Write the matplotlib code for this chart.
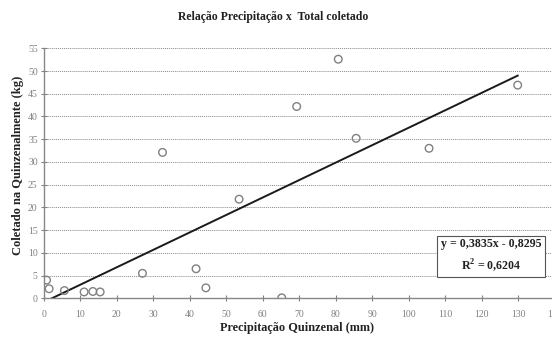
import numpy as np
import matplotlib.pyplot as plt

# precipitacao quinzenal (mm) x coletado (kg)
precip = [0.7, 1.4, 5.6, 11.0, 13.4, 15.4, 27.0, 32.5, 41.7, 44.4,
          53.5, 65.2, 69.3, 80.7, 85.6, 105.6, 129.9]
coletado = [4.0, 2.1, 1.7, 1.4, 1.5, 1.4, 5.5, 32.1, 6.5, 2.3,
            21.8, 0.1, 42.2, 52.6, 35.2, 33.0, 46.9]

slope = 0.3835
intercept = -0.8295
r2 = 0.6204

x_ticks = list(range(0, 141, 10))
y_ticks = list(range(0, 56, 5))

plt.rcParams['font.family'] = ['Liberation Serif', 'DejaVu Serif']
plt.rcParams['mathtext.fontset'] = 'custom'
plt.rcParams['mathtext.rm'] = 'Liberation Serif'
plt.rcParams['mathtext.bf'] = 'Liberation Serif:bold'

fig = plt.figure(figsize=(5.52, 3.37), dpi=100)
ax = fig.add_axes([44 / 552, 38.7 / 337, 510.5 / 552, 250 / 337])

ax.scatter(precip, coletado, s=30, facecolors='none', edgecolors='#808080',
           linewidths=1.0, zorder=3)

xs = np.array([min(precip), max(precip)])
ax.plot(xs, slope * xs + intercept, color='#1a1a1a', lw=1.4, zorder=2)

ax.set_xlim(0, 140)
ax.set_ylim(0, 55)
ax.set_xticks(x_ticks)
ax.set_yticks(y_ticks)
ax.tick_params(labelsize=7, colors='#808080', direction='inout', length=5,
               width=0.8, pad=2)
ax.tick_params(axis='x', pad=6)
ax.yaxis.grid(True, linestyle=(0, (1, 1)), color='#888888', lw=0.7)
ax.set_axisbelow(True)
for s in ['top', 'right']:
    ax.spines[s].set_visible(False)
for s in ['left', 'bottom']:
    ax.spines[s].set_color('#888888')
    ax.spines[s].set_linewidth(1.0)

fig.text(0.495, 0.95, 'Relação Precipitação x  Total coletado', ha='center',
         va='center', fontsize=8.5, fontweight='bold', color='#222222')
fig.text(0.538, 0.027, 'Precipitação Quinzenal (mm)', ha='center', va='center',
         fontsize=8.8, fontweight='bold', color='#222222')
fig.text(0.032, 0.51, 'Coletado na Quinzenalmente (kg)', ha='center',
         va='center', rotation=90, fontsize=9, fontweight='bold',
         color='#222222')

eq = 'y = 0,3835x - 0,8295\nR$^\\mathbf{2}$ = 0,6204'
fig.text(491 / 552, 1 - 256 / 337, eq, ha='center', va='center',
         fontsize=8.6, fontweight='bold', color='#222222', linespacing=1.5,
         bbox=dict(boxstyle='square,pad=0.3', fc='white', ec='#555555', lw=0.8))

fig.savefig('out.png', dpi=100)
